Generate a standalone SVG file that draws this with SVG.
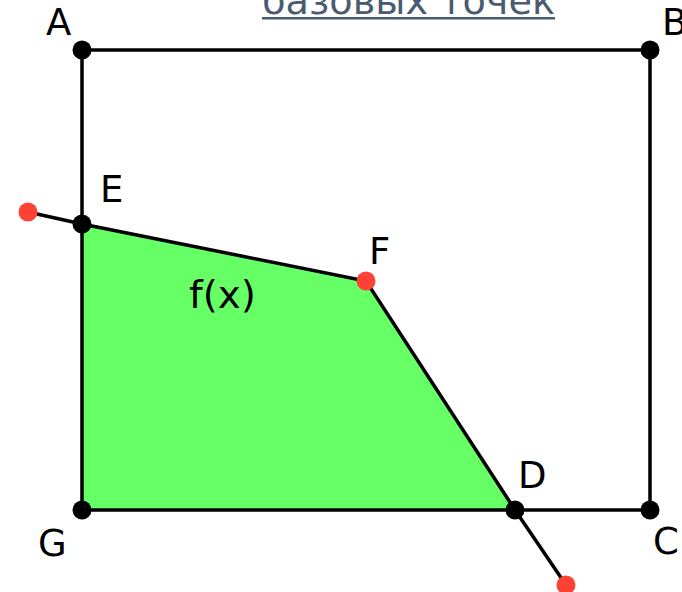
<svg xmlns="http://www.w3.org/2000/svg" width="682" height="592" viewBox="0 0 682 592">
<style>
.lbl{font-family:"DejaVu Sans","Liberation Sans",sans-serif;font-size:37px;fill:#000}
.ln{stroke:#000;stroke-width:3.5;fill:none;stroke-linecap:round}
.bd{fill:#000}
.rd{fill:#ff4136}
</style>
<rect width="682" height="592" fill="#fff"/>
<g id="title">
<text x="262" y="14" font-family="DejaVu Sans, sans-serif" font-size="38" fill="#4a5b71" textLength="293" lengthAdjust="spacingAndGlyphs">базовых точек</text>
<rect x="262" y="17" width="293" height="2.5" fill="#4a5b71"/>
</g>
<g id="region">
<polygon points="82,224 366,281 515,510 82,510" fill="#66ff66"/>
<text class="lbl" x="189" y="308" textLength="67" lengthAdjust="spacingAndGlyphs">f(x)</text>
</g>
<g id="connectors">
<polyline class="ln" points="82,510 82,50 650,50 650,510 515,510"/>
<line class="ln" x1="82" y1="510" x2="515" y2="510"/>
<polyline class="ln" points="28,212 82,224 366,281 515,510 566,585"/>
</g>
<g id="A"><circle class="bd" cx="82" cy="50" r="9.5"/><text class="lbl" x="46" y="35">A</text></g>
<g id="B"><circle class="bd" cx="650" cy="50" r="9.5"/><text class="lbl" x="662" y="35">B</text></g>
<g id="C"><circle class="bd" cx="650" cy="510" r="9.5"/><text class="lbl" x="653" y="554">C</text></g>
<g id="G"><circle class="bd" cx="82" cy="510" r="9.5"/><text class="lbl" x="38" y="556">G</text></g>
<g id="E"><circle class="bd" cx="82" cy="224" r="9.5"/><text class="lbl" x="100" y="202">E</text></g>
<g id="D"><circle class="bd" cx="515" cy="510" r="9.5"/><text class="lbl" x="518" y="488">D</text></g>
<g id="F"><circle class="rd" cx="366" cy="281" r="9.5"/><text class="lbl" x="369" y="264">F</text></g>
<g id="P1"><circle class="rd" cx="28" cy="212" r="9.5"/></g>
<g id="P2"><circle class="rd" cx="566" cy="585" r="9.5"/></g>
</svg>
